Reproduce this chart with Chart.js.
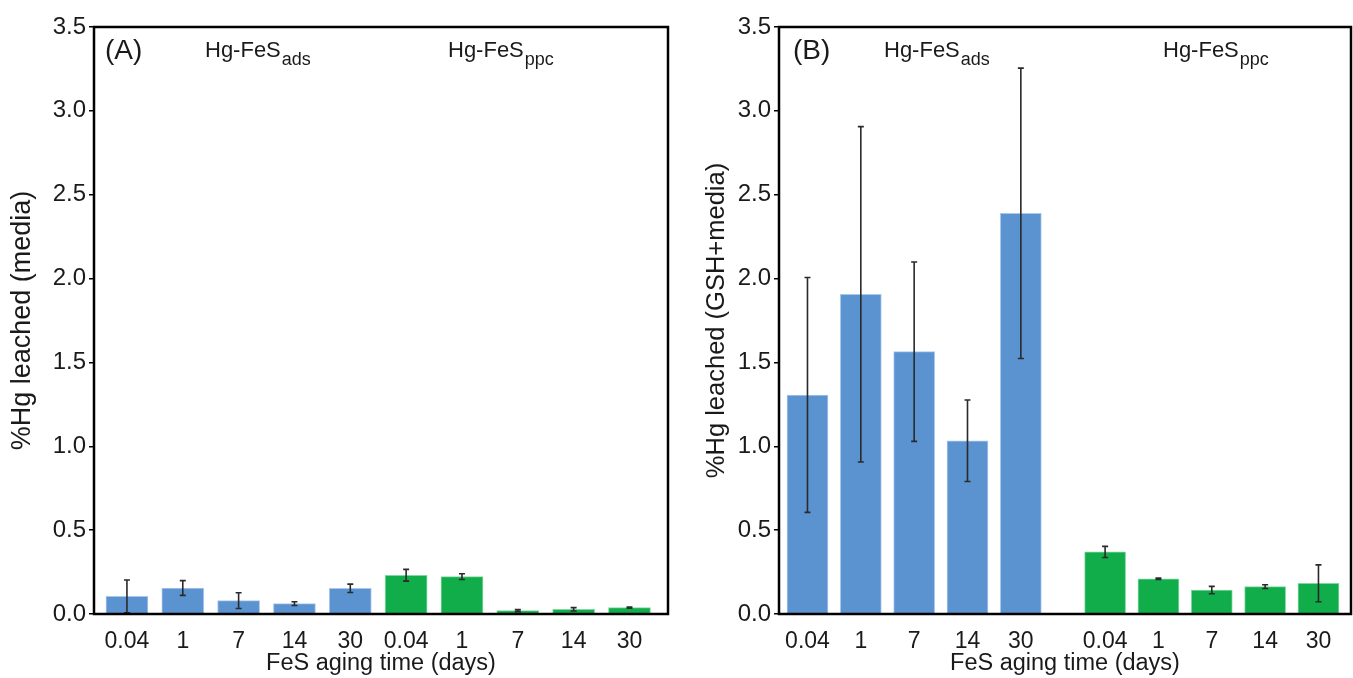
<!DOCTYPE html>
<html>
<head>
<meta charset="utf-8">
<script src="https://cdn.jsdelivr.net/npm/chart.js@4.4.1/dist/chart.umd.min.js"></script>
<style>
  html, body { margin: 0; padding: 0; background: #fff; }
  #wrap { position: relative; width: 1353px; height: 678px; overflow: hidden; }
  #chartA { position: absolute; left: 0; top: 0; }
  #chartB { position: absolute; left: 680px; top: 0; }
</style>
</head>
<body>
<div id="wrap">
  <canvas id="chartA" width="680" height="678"></canvas>
  <canvas id="chartB" width="673" height="678"></canvas>
</div>
<script>
// FeS aging time (days), same for both groups
const days = ['0.04', '1', '7', '14', '30'];

// (A) leached in media
const adsMedia = [0.105, 0.155, 0.08, 0.062, 0.153];
const adsMediaErr = [0.098, 0.044, 0.047, 0.011, 0.025];
const ppcMedia = [0.231, 0.223, 0.02, 0.028, 0.038];
const ppcMediaErr = [0.035, 0.017, 0.006, 0.01, 0.003];

// (B) leached in GSH + media
const adsGsh = [1.306, 1.906, 1.564, 1.033, 2.389];
const adsGshErr = [0.70, 1.0, 0.535, 0.243, 0.866];
const ppcGsh = [0.37, 0.21, 0.143, 0.163, 0.183];
const ppcGshErr = [0.033, 0.004, 0.022, 0.011, 0.11];

const yTicks = [0, 0.5, 1.0, 1.5, 2.0, 2.5, 3.0, 3.5];

const blue = '#5b93d1';
const blueEdge = '#a8c8ec';
const green = '#10ad4a';
const greenEdge = '#7fd8a0';
const fontFam = '"Liberation Sans", Arial, sans-serif';
const ink = '#1a1a1a';

// error bars drawn from the dataset values through the y scale
const errorBars = {
  id: 'errorBars',
  afterDatasetsDraw(chart) {
    const ctx = chart.ctx;
    const y = chart.scales.y;
    ctx.save();
    ctx.strokeStyle = '#2a2a2a';
    ctx.lineWidth = 1.6;
    chart.data.datasets.forEach((ds, di) => {
      const meta = chart.getDatasetMeta(di);
      meta.data.forEach((bar, i) => {
        const v = ds.data[i].y;
        const e = ds.errors[i];
        const top = y.getPixelForValue(v + e);
        const bot = y.getPixelForValue(Math.max(v - e, 0));
        ctx.beginPath();
        ctx.moveTo(bar.x, top); ctx.lineTo(bar.x, bot);
        ctx.moveTo(bar.x - 3, top); ctx.lineTo(bar.x + 3, top);
        ctx.moveTo(bar.x - 3, bot); ctx.lineTo(bar.x + 3, bot);
        ctx.stroke();
      });
    });
    ctx.restore();
  }
};

// box round the plot area plus the panel letter and group labels
const panelText = {
  id: 'panelText',
  afterDraw(chart, args, opts) {
    const ctx = chart.ctx;
    const a = chart.chartArea;
    ctx.save();
    ctx.strokeStyle = '#000';
    ctx.lineWidth = 2.5;
    ctx.strokeRect(a.left, a.top, a.right - a.left, a.bottom - a.top);
    ctx.fillStyle = ink;
    ctx.textBaseline = 'alphabetic';
    ctx.font = '28px ' + fontFam;
    ctx.fillText(opts.tag, a.left + opts.tagX, a.top + 32);
    opts.groups.forEach(g => {
      ctx.font = '22px ' + fontFam;
      ctx.fillText('Hg-FeS', a.left + g.x, a.top + 30);
      const w = ctx.measureText('Hg-FeS').width;
      ctx.font = '18px ' + fontFam;
      ctx.fillText(g.sub, a.left + g.x + w + 1, a.top + 38);
    });
    ctx.restore();
  }
};

function makeChart(id, ads, adsErr, ppc, ppcErr, gap, xMin, xMax, yTitle, yTitleSize, yWidth, titlePad, rightPad, barW, text) {
  const pos = days.map((d, i) => i);
  const pos2 = days.map((d, i) => i + days.length + gap);
  const allPos = pos.concat(pos2);
  const allLabels = days.concat(days);
  return new Chart(document.getElementById(id), {
    type: 'bar',
    data: {
      datasets: [
        {
          label: 'Hg-FeS ads',
          data: ads.map((v, i) => ({ x: pos[i], y: v })),
          errors: adsErr,
          backgroundColor: blue,
          borderColor: blueEdge,
          borderWidth: 1,
          barThickness: barW,
          grouped: false
        },
        {
          label: 'Hg-FeS ppc',
          data: ppc.map((v, i) => ({ x: pos2[i], y: v })),
          errors: ppcErr,
          backgroundColor: green,
          borderColor: greenEdge,
          borderWidth: 1,
          barThickness: barW,
          grouped: false
        }
      ]
    },
    options: {
      responsive: false,
      animation: false,
      layout: { padding: { left: 0, right: rightPad, top: 27, bottom: 0 } },
      plugins: {
        legend: { display: false },
        tooltip: { enabled: false },
        panelText: text
      },
      scales: {
        x: {
          type: 'linear',
          offset: false,
          min: xMin,
          max: xMax,
          grid: { display: false, offset: false },
          border: { display: false },
          afterBuildTicks: s => { s.ticks = allPos.map(v => ({ value: v })); },
          afterFit: s => { s.height = 64; },
          ticks: {
            autoSkip: false,
            maxRotation: 0,
            padding: 6,
            color: ink,
            font: { family: fontFam, size: 23 },
            callback: (v, i) => allLabels[i]
          },
          title: {
            display: true,
            text: 'FeS aging time (days)',
            color: ink,
            font: { family: fontFam, size: 23.5 },
            padding: { top: 0, bottom: 0 }
          }
        },
        y: {
          min: 0,
          max: 3.5,
          afterBuildTicks: s => { s.ticks = yTicks.map(v => ({ value: v })); },
          afterFit: s => { s.width = yWidth; },
          grid: {
            drawOnChartArea: false,
            drawTicks: true,
            tickLength: 5,
            color: '#000',
            lineWidth: 1.5
          },
          border: { display: false },
          ticks: {
            padding: 3,
            color: ink,
            font: { family: fontFam, size: 24 },
            callback: v => v.toFixed(1)
          },
          title: {
            display: true,
            text: yTitle,
            color: ink,
            font: { family: fontFam, size: yTitleSize },
            padding: { top: titlePad, bottom: 0 }
          }
        }
      }
    },
    plugins: [errorBars, panelText]
  });
}

makeChart('chartA', adsMedia, adsMediaErr, ppcMedia, ppcMediaErr, 0, -0.59, 9.69,
  '%Hg leached (media)', 27, 94, 6, 12, 42,
  { tag: '(A)', tagX: 11, groups: [{ x: 111, sub: 'ads' }, { x: 354, sub: 'ppc' }] });

makeChart('chartB', adsGsh, adsGshErr, ppcGsh, ppcGshErr, 0.58, -0.534, 10.19,
  '%Hg leached (GSH+media)', 25.5, 99, 22, 2, 41,
  { tag: '(B)', tagX: 14, groups: [{ x: 105, sub: 'ads' }, { x: 384, sub: 'ppc' }] });
</script>
</body>
</html>
